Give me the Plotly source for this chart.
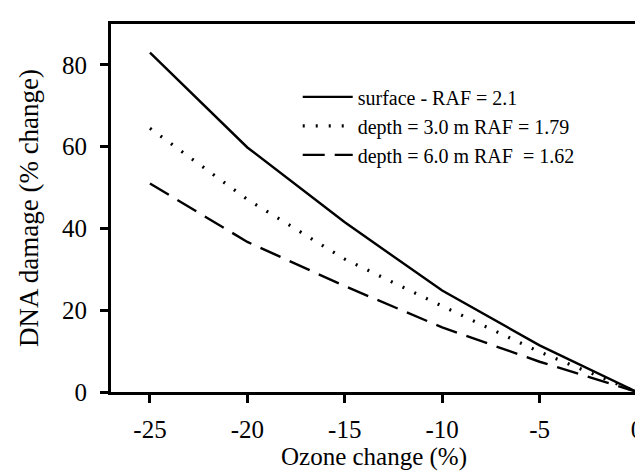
import plotly.graph_objects as go

ozone = [-25, -20, -15, -10, -5, 0]
surface = [83, 59.8, 41.5, 24.8, 11.4, 0]
depth3 = [64.5, 47.1, 32.5, 21, 9.8, 0]
depth6 = [51, 36.7, 25.9, 15.8, 7.4, 0]
names = ["surface - RAF = 2.1", "depth = 3.0 m RAF = 1.79", "depth = 6.0 m RAF  = 1.62"]
x_ticks = [-25, -20, -15, -10, -5, 0]
y_ticks = [0, 20, 40, 60, 80]

font = "Liberation Serif, Times New Roman, serif"
fig = go.Figure()
fig.add_trace(go.Scatter(x=ozone, y=surface, mode="lines", name=names[0],
                         line=dict(color="black", width=2.4)))
fig.add_trace(go.Scatter(x=ozone, y=depth3, mode="lines", name=names[1],
                         line=dict(color="black", width=3.2, dash="2px,11px")))
fig.add_trace(go.Scatter(x=ozone, y=depth6, mode="lines", name=names[2],
                         line=dict(color="black", width=2.4, dash="22px,10px")))

axis_common = dict(showline=True, linecolor="black", linewidth=3, mirror=True,
                   ticks="outside", ticklen=8, tickwidth=2.5, tickcolor="black",
                   showgrid=False, zeroline=False,
                   tickfont=dict(family=font, size=25, color="black"))
fig.update_xaxes(range=[-27, 0], tickvals=x_ticks, ticktext=[str(v) for v in x_ticks],
                 ticklabelstandoff=5,
                 title=dict(text="Ozone change (%)", font=dict(family=font, size=25, color="black"), standoff=2),
                 **axis_common)
fig.update_yaxes(range=[0, 90], tickvals=y_ticks, ticklabelstandoff=8,
                 title=dict(text="DNA damage (% change)", font=dict(family=font, size=27, color="black"), standoff=16),
                 **axis_common)
fig.update_layout(
    width=643, height=472,
    margin=dict(l=103, r=8, t=16, b=88),
    plot_bgcolor="white", paper_bgcolor="white",
    legend=dict(x=0.355, y=0.855, xanchor="left", yanchor="top",
                bgcolor="rgba(0,0,0,0)", font=dict(family=font, size=20, color="black"),
                tracegroupgap=0, itemwidth=50),
    showlegend=True,
)
fig.write_html("out.html")
